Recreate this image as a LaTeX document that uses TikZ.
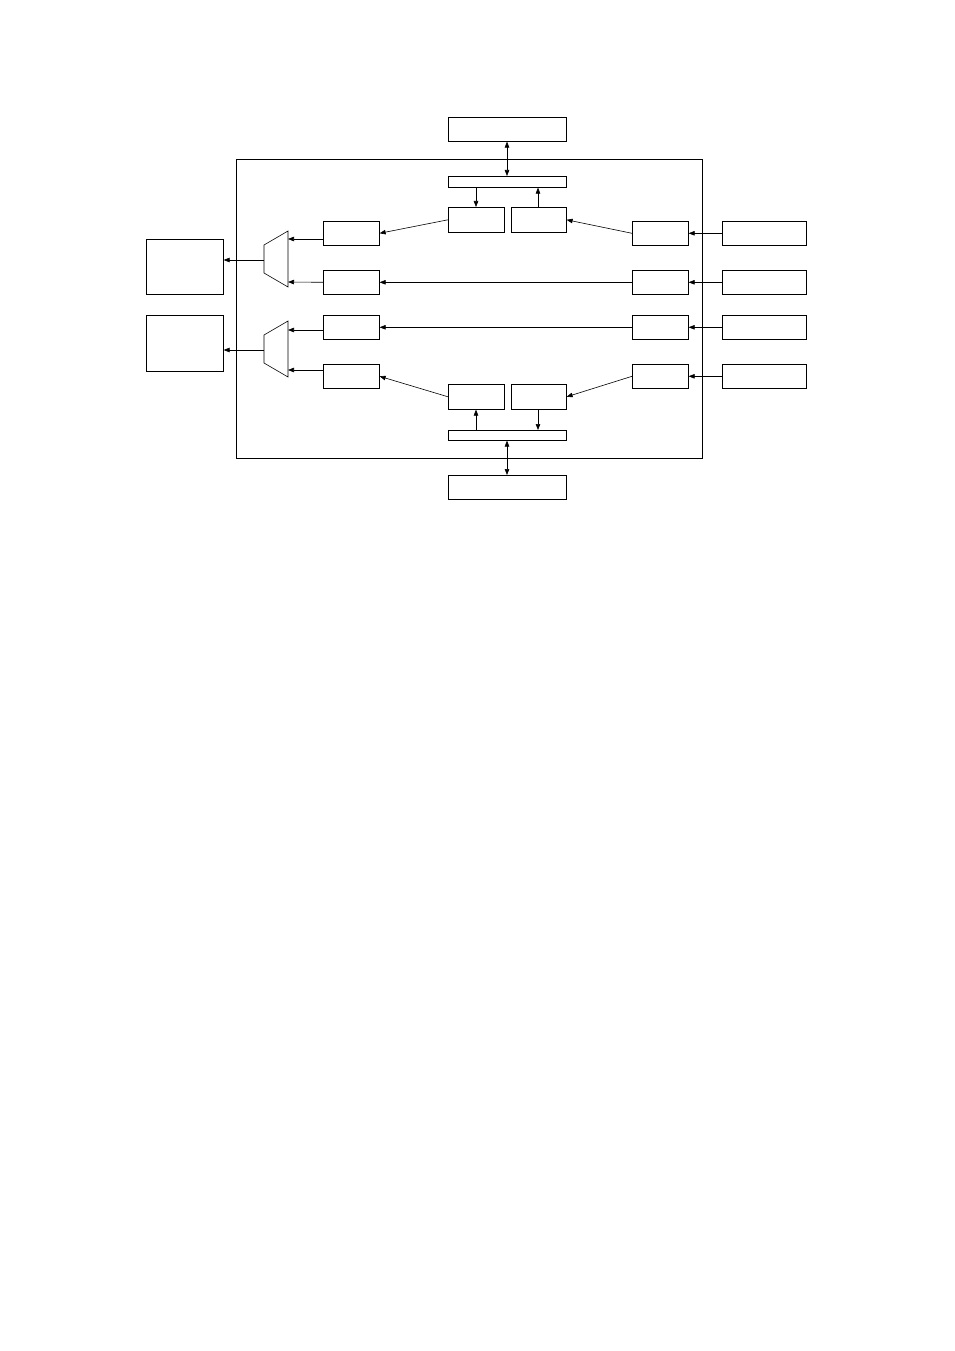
\documentclass[tikz,border=0pt]{standalone}
\usetikzlibrary{arrows.meta}
\begin{document}
\begin{tikzpicture}[x=1pt,y=-1pt,line width=0.6pt,
  bx/.style={draw,inner sep=0pt,anchor=north west},
  ar/.style={-{Triangle[length=6pt,width=4.5pt]}},
  dar/.style={{Triangle[length=6pt,width=4.5pt]}-{Triangle[length=6pt,width=4.5pt]}}]
\useasboundingbox (0,0) rectangle (954,1351);
\newcommand\bxat[5]{\node[bx,minimum width=#4pt,minimum height=#5pt] (#1) at (#2,#3) {};}
\draw (236,159) rectangle (702,458);
\bxat{top}{448}{117}{118}{24}
\bxat{tbar}{448}{176}{118}{11}
\bxat{ta}{448}{207}{56}{25}
\bxat{tb}{511}{207}{55}{25}
\bxat{bot}{448}{475}{118}{24}
\bxat{bbar}{448}{430}{118}{10}
\bxat{ba}{448}{384}{56}{25}
\bxat{bb}{511}{384}{55}{25}
\foreach \i/\y in {1/221,2/270,3/315,4/364}{
  \bxat{l\i}{323}{\y}{56}{24}
  \bxat{r\i}{632}{\y}{56}{24}
  \bxat{f\i}{722}{\y}{84}{24}
  \draw[ar] (f\i.west) -- (r\i.east);
}
\bxat{L1}{146}{239}{77}{55}
\bxat{L2}{146}{315}{77}{56}
\draw (264,245) -- (288,231) -- (288,287) -- (264,273) -- cycle;
\draw (264,335) -- (288,321) -- (288,377) -- (264,363) -- cycle;
\coordinate (m1) at (264,260); \coordinate (m2) at (264,350);
\draw[ar] (m1) -- (L1.east|-m1);
\draw[ar] (m2) -- (L2.east|-m2);
\draw[ar] (l1.west|-0,239) -- (288,239);
\draw[ar] (l2.west) -- (288,282);
\draw[ar] (l3.west|-0,330) -- (288,330);
\draw[ar] (l4.west|-0,370) -- (288,370);
\draw[ar] (r2.west) -- (l2.east);
\draw[ar] (r3.west) -- (l3.east);
\draw[ar] (ta.west) -- (l1.east);
\draw[ar] (r1.west) -- (tb.east);
\draw[ar] (ba.west) -- (l4.east);
\draw[ar] (r4.west) -- (bb.east);
\draw[dar] (top.south-|507,0) -- (tbar.north-|507,0);
\draw[dar] (bbar.south-|507,0) -- (bot.north-|507,0);
\draw[ar] (tbar.south-|476,0) -- (ta.north-|476,0);
\draw[ar] (tb.north-|538,0) -- (tbar.south-|538,0);
\draw[ar] (bbar.north-|476,0) -- (ba.south-|476,0);
\draw[ar] (bb.south-|538,0) -- (bbar.north-|538,0);
\end{tikzpicture}
\end{document}
